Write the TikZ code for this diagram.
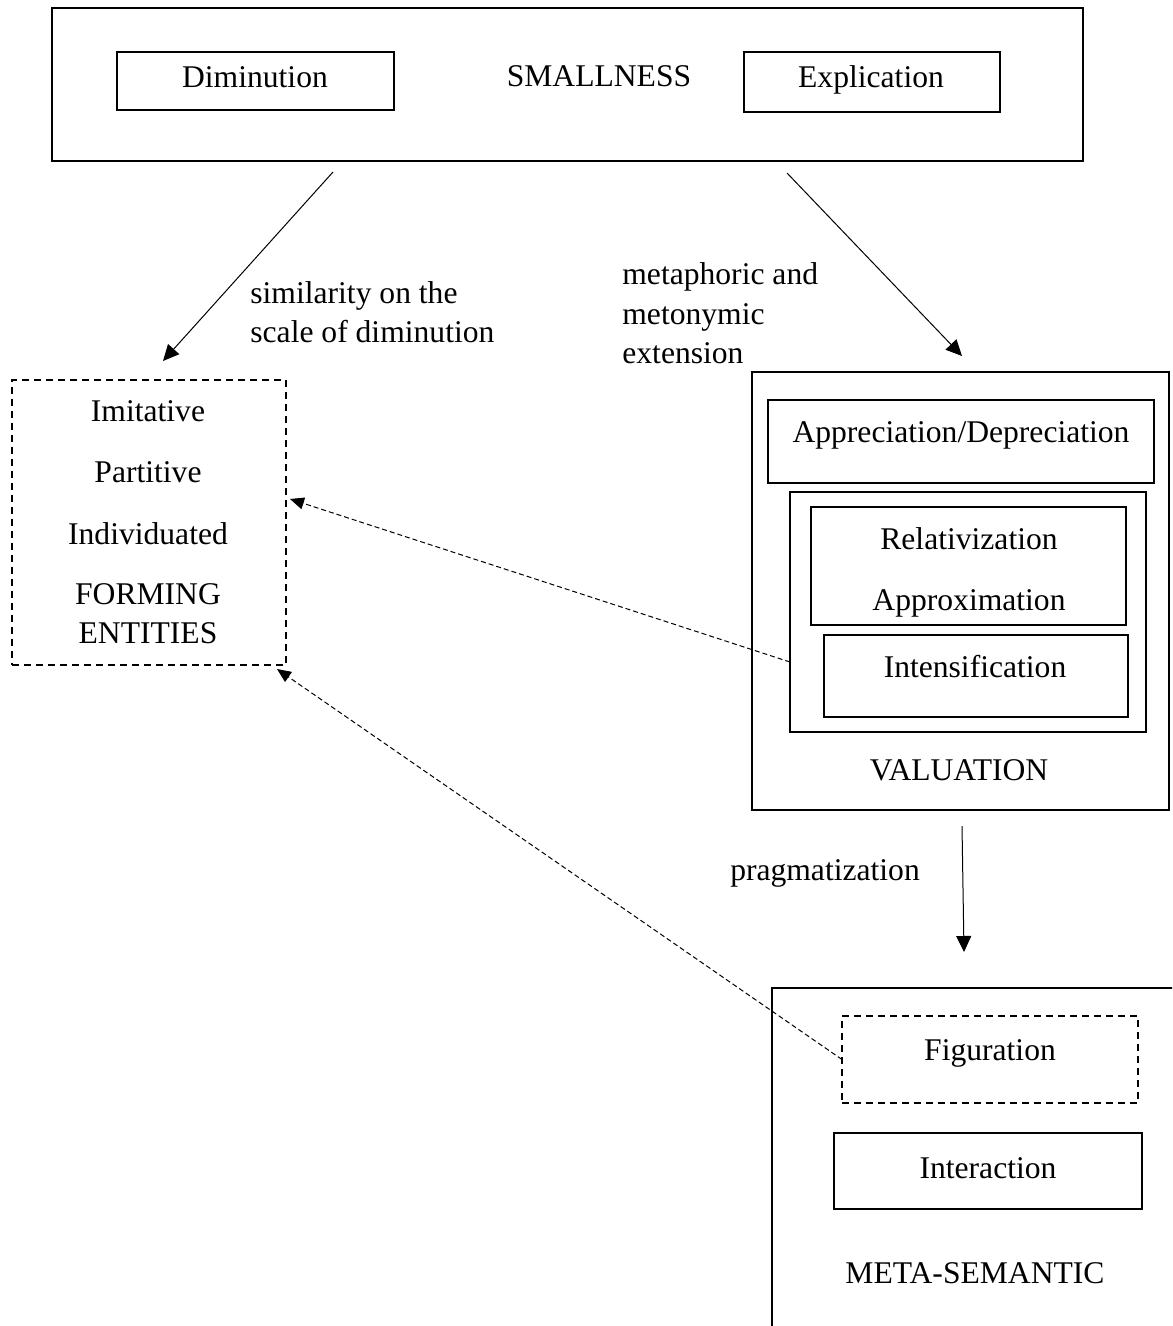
\documentclass[tikz,border=0pt]{standalone}
\usepackage{fontspec}
\setmainfont{Liberation Serif}
\usetikzlibrary{arrows.meta}
\begin{document}
\begin{tikzpicture}[x=0.5pt,y=-0.5pt,
  box/.style={draw, line width=1pt, inner sep=0pt, outer sep=0pt},
  dbox/.style={draw, line width=1pt, dash pattern=on 3.5pt off 2.5pt, inner sep=0pt, outer sep=0pt},
  wh/.style 2 args={minimum width=#1*0.5pt, minimum height=#2*0.5pt},
  txt/.style={anchor=base, inner sep=0pt, font=\fontsize{15.8}{19.5}\selectfont},
  ltxt/.style={txt, anchor=base west},
  arr/.style={line width=0.5pt, -{Triangle[length=8pt,width=7.5pt]}},
  darr/.style={line width=0.5pt, dash pattern=on 2.5pt off 1.5pt, -{Triangle[length=7pt,width=6pt]}},
]
\clip (0,0) rectangle (1172,1326);
\fill[white] (0,0) rectangle (1172,1326);

% top box
\node[box, wh={1031}{153}] (top) at (567.5,84.5) {};
\node[box, wh={277}{58}] (dim) at (255.5,81) {};
\node[box, wh={256}{60}] (exp) at (872,82) {};
\node[txt] (tdim) at (255,88) {Diminution};
\node[txt] (tsmall) at (599,87) {SMALLNESS};
\node[txt] (texp) at (871,88) {Explication};

% forming entities
\node[dbox, wh={274}{285}] (form) at (149,522.5) {};
\node[txt] (t1) at (148,421) {Imitative};
\node[txt] (t2) at (148,482) {Partitive};
\node[txt] (t3) at (148,544) {Individuated};
\node[txt] (t4) at (148,604) {FORMING};
\node[txt] (t5) at (148,643) {ENTITIES};

% valuation
\node[box, wh={417}{438}] (val) at (960.5,591) {};
\node[box, wh={386}{83}] (app) at (961,441.5) {};
\node[box, wh={356}{240}] (mid) at (968,612) {};
\node[box, wh={315}{118}] (rel) at (968.5,566) {};
\node[box, wh={304}{82}] (int) at (976,676) {};
\node[txt] (tapp) at (961,442) {Appreciation/Depreciation};
\node[txt] (trel) at (969,549) {Relativization};
\node[txt] (tapx) at (969,610) {Approximation};
\node[txt] (tint) at (975,677) {Intensification};
\node[txt] (tval) at (959,780) {VALUATION};

% meta-semantic
\node[box, wh={418}{362}] (meta) at (981,1169) {};
\node[dbox, wh={296}{87}] (fig) at (990,1059.5) {};
\node[box, wh={308}{76}] (inter) at (988,1171) {};
\node[txt] (tfig) at (990,1060) {Figuration};
\node[txt] (tinter) at (988,1178) {Interaction};
\node[txt] (tmeta) at (975,1283) {META-SEMANTIC};

% labels
\node[ltxt] (l1a) at (250,304) {similarity on the};
\node[ltxt] (l1b) at (250,343) {scale of diminution};
\node[ltxt] (l2a) at (622,285) {metaphoric and};
\node[ltxt] (l2b) at (622,325) {metonymic};
\node[ltxt] (l2c) at (622,364) {extension};
\node[txt] (lprag) at (825,880) {pragmatization};

% connectors
\coordinate (s1) at (333,172);
\coordinate (e1) at (163,361);
\coordinate (s2) at (787,173);
\coordinate (e2) at (962,356);
\coordinate (s3) at (962,826);
\coordinate (e3) at (964,952);
\coordinate (d1s) at (790,662);
\coordinate (d1e) at (290,499);
\coordinate (d2e) at (277,669);
\draw[arr] (s1) -- (e1);
\draw[arr] (s2) -- (e2);
\draw[arr] (s3) -- (e3);
\draw[darr] (d1s) -- (d1e);
\draw[darr] (fig.west) -- (d2e);
\end{tikzpicture}
\end{document}
